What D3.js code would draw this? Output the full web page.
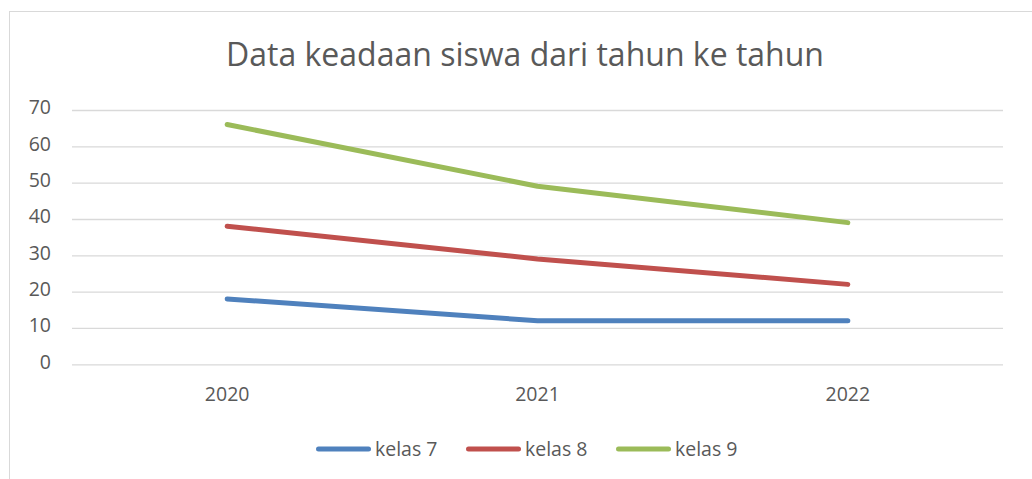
<!DOCTYPE html>
<html><head><meta charset="utf-8">
<script src="https://cdn.jsdelivr.net/npm/d3@7"></script>
<style>body{margin:0;background:#fff}svg{display:block}text{font-family:"Open Sans","Noto Sans",sans-serif;fill:#595959}</style>
</head><body>
<svg id="c" width="1032" height="479"></svg>
<script>
const categories = ["2020", "2021", "2022"];
const seriesNames = ["kelas 7", "kelas 8", "kelas 9"];
const kelas7 = [18, 12, 12];
const kelas8 = [38, 29, 22];
const kelas9 = [66, 49, 39];
const yTicks = [0, 10, 20, 30, 40, 50, 60, 70];
const colors = ["#4f81bd", "#c0504d", "#9bbb59"];
const title = "Data keadaan siswa dari tahun ke tahun";

const series = [kelas7, kelas8, kelas9].map((v, i) => ({name: seriesNames[i], values: v, color: colors[i]}));
const svg = d3.select("#c");
svg.append("rect").attr("x", 9.5).attr("y", 11.5).attr("width", 1040).attr("height", 480)
  .attr("fill", "#fff").attr("stroke", "#d9d9d9").attr("stroke-width", 1);

const x = d3.scaleBand().domain(categories).range([72, 1003]);
const y = d3.scaleLinear().domain([0, 70]).range([364.3, 110]);

svg.append("text").attr("x", 525).attr("y", 66).attr("text-anchor", "middle")
  .attr("font-size", 32).text(title);

const yAxis = svg.append("g").attr("transform", "translate(72,0)")
  .call(d3.axisLeft(y).tickValues(yTicks).tickSize(-(1003 - 72)).tickPadding(21));
yAxis.select(".domain").remove();
yAxis.selectAll(".tick line").attr("stroke", "#d9d9d9").attr("stroke-width", 1.3);
yAxis.selectAll(".tick text").attr("font-size", 19.5).attr("fill", "#595959")
  .attr("font-family", "Open Sans, Noto Sans, sans-serif").attr("dy", "0.2em");

const xAxis = svg.append("g").attr("transform", "translate(0,364.3)")
  .call(d3.axisBottom(x).tickSize(0).tickPadding(23));
xAxis.select(".domain").remove();
xAxis.selectAll(".tick text").attr("font-size", 19.5).attr("fill", "#595959").attr("font-family", "Open Sans, Noto Sans, sans-serif");

const line = d3.line().x((d, i) => x(categories[i]) + x.bandwidth() / 2).y(d => y(d));
svg.selectAll("path.series").data(series).join("path").attr("class", "series")
  .attr("d", d => line(d.values)).attr("fill", "none").attr("stroke", d => d.color)
  .attr("stroke-width", 5).attr("stroke-linecap", "round").attr("stroke-linejoin", "round");

const legendX = [316, 466, 616];
const lg = svg.selectAll("g.leg").data(series).join("g").attr("class", "leg")
  .attr("transform", (d, i) => `translate(${legendX[i]},449)`);
lg.append("line").attr("x1", 2.5).attr("x2", 52.5).attr("stroke", d => d.color)
  .attr("stroke-width", 5).attr("stroke-linecap", "round");
lg.append("text").attr("x", 59).attr("y", 6.5).attr("font-size", 19.5).text(d => d.name);
</script>
</body></html>
